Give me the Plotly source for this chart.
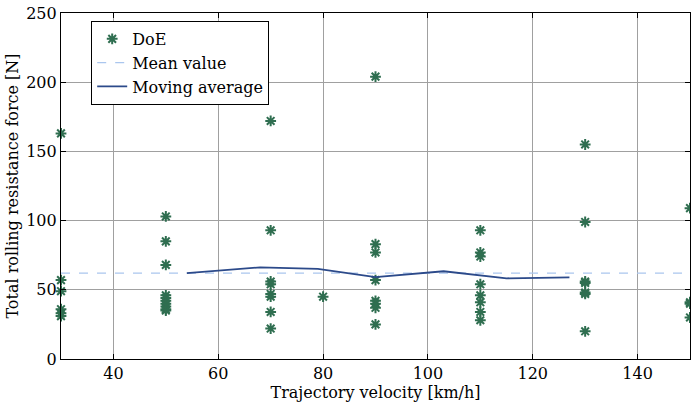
import plotly.graph_objects as go

# DoE sample points (velocity, force)
doe_velocity = [30]*6 + [50]*10 + [70]*8 + [80] + [90]*8 + [110]*8 + [130]*7 + [150]*4
doe_force = [163, 57, 49, 36, 33, 31,
             103, 85, 68, 46, 44, 42, 40, 38, 36, 35,
             172, 93, 56, 54, 47, 45, 34, 22,
             45,
             204, 83, 77, 57, 42, 40, 37, 25,
             93, 77, 74, 54, 46, 41, 34, 28,
             155, 99, 56, 55, 48, 47, 20,
             109, 41, 40, 30]

mean_value = 62.0
mean_x = [30, 150]

ma_velocity = [54, 68, 79, 90, 103, 115, 127]
ma_force = [62.0, 66.2, 65.1, 59.2, 63.4, 58.3, 59.0]

x_ticks = [40, 60, 80, 100, 120, 140]
y_ticks = [0, 50, 100, 150, 200, 250]

FONT = "DejaVu Serif"

fig = go.Figure()
fig.add_trace(go.Scatter(
    x=doe_velocity, y=doe_force, mode="markers", name="DoE",
    marker=dict(symbol="asterisk-open", size=9, color="#2f6e50",
                line=dict(color="#2f6e50", width=2)),
    cliponaxis=False))
fig.add_trace(go.Scatter(
    x=mean_x, y=[mean_value]*len(mean_x), mode="lines", name="Mean value",
    line=dict(color="#aac6ee", width=1.3, dash="dash")))
fig.add_trace(go.Scatter(
    x=ma_velocity, y=ma_force, mode="lines", name="Moving average",
    line=dict(color="#2c4a8a", width=1.8)))

axis_common = dict(
    showline=True, linecolor="black", linewidth=1.2, mirror="ticks",
    ticks="inside", ticklen=5, tickcolor="black", tickwidth=1,
    showgrid=True, gridcolor="#a0a0a0", gridwidth=1.3,
    zeroline=False, tickfont=dict(family=FONT, size=16, color="black"),
)

fig.update_layout(
    width=691, height=406,
    margin=dict(l=61, r=1, t=13, b=47),
    paper_bgcolor="white", plot_bgcolor="white",
    font=dict(family=FONT, size=16, color="black"),
    xaxis=dict(range=[30, 150], tickvals=x_ticks,
               title=dict(text="Trajectory velocity [km/h]", standoff=1,
                          font=dict(family=FONT, size=16)),
               **axis_common),
    yaxis=dict(range=[0, 250], tickvals=y_ticks,
               title=dict(text="Total rolling resistance force [N]", standoff=3,
                          font=dict(family=FONT, size=16)),
               **axis_common),
    legend=dict(x=0.048, y=0.977, xanchor="left", yanchor="top",
                bgcolor="white", bordercolor="black", borderwidth=1,
                font=dict(family=FONT, size=16), itemwidth=30,
                tracegroupgap=0),
    showlegend=True,
)

fig.write_html("out.html")
